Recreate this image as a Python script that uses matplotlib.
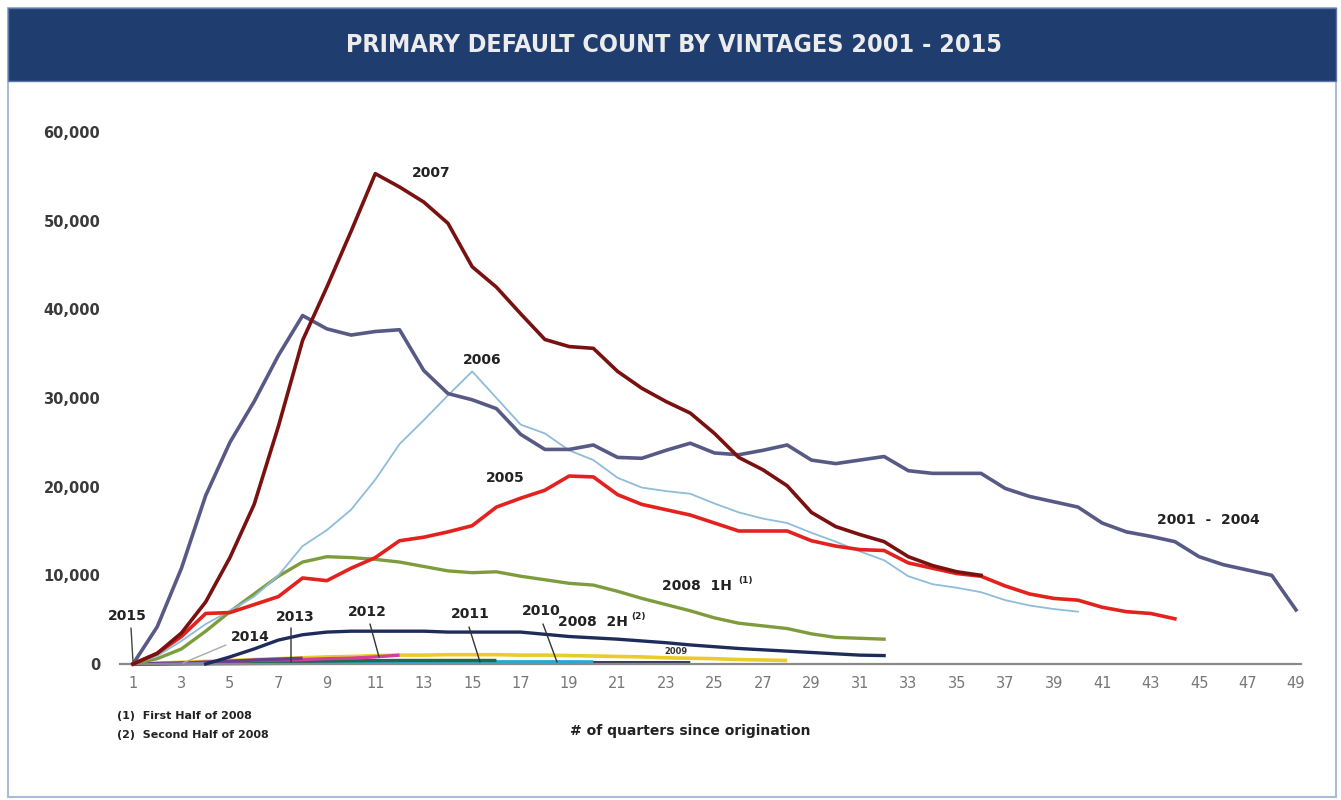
import numpy as np
import matplotlib
matplotlib.use("Agg")
import matplotlib.pyplot as plt
from matplotlib.patches import Rectangle
from matplotlib.ticker import FuncFormatter

# ---------------- data ----------------
title = "PRIMARY DEFAULT COUNT BY VINTAGES 2001 - 2015"
x_label = "# of quarters since origination"
footnotes = ["(1)  First Half of 2008", "(2)  Second Half of 2008"]
y_ticks = [0, 10000, 20000, 30000, 40000, 50000, 60000]
x_ticks = list(range(1, 50, 2))

v2001_2004 = [0, 4200, 10800, 19000, 25000, 29600, 34800, 39300, 37800, 37100,
              37500, 37700, 33100, 30500, 29800, 28800, 25900, 24200, 24200, 24700,
              23300, 23200, 24100, 24900, 23800, 23600, 24100, 24700, 23000, 22600,
              23000, 23400, 21800, 21500, 21500, 21500, 19800, 18900, 18300, 17700,
              15900, 14900, 14400, 13800, 12100, 11200, 10600, 10000, 6100]
v2007 = [0, 1200, 3500, 7000, 12000, 18000, 26800, 36500, 42500, 48800,
         55300, 53800, 52100, 49700, 44800, 42500, 39500, 36600, 35800, 35600,
         33000, 31100, 29600, 28300, 26000, 23300, 21900, 20100, 17100, 15500,
         14600, 13800, 12100, 11100, 10400, 10000]
v2006 = [0, 900, 2600, 4500, 6000, 7600, 10000, 13300, 15100, 17400,
         20800, 24800, 27500, 30300, 33000, 30000, 27000, 26000, 24100, 23000,
         21000, 19900, 19500, 19200, 18100, 17100, 16400, 15900, 14800, 13800,
         12700, 11700, 9900, 9000, 8600, 8100, 7200, 6600, 6200, 5900]
v2005 = [0, 1200, 3100, 5700, 5800, 6700, 7600, 9700, 9400, 10800,
         12000, 13900, 14300, 14900, 15600, 17700, 18700, 19600, 21200, 21100,
         19100, 18000, 17400, 16800, 15900, 15000, 15000, 15000, 13900, 13300,
         12900, 12800, 11400, 10800, 10200, 9900, 8800, 7900, 7400, 7200,
         6400, 5900, 5700, 5100]
v2008_1h = [0, 600, 1700, 3700, 5900, 7900, 9900, 11500, 12100, 12000,
            11800, 11500, 11000, 10500, 10300, 10400, 9900, 9500, 9100, 8900,
            8200, 7400, 6700, 6000, 5200, 4600, 4300, 4000, 3400, 3000,
            2900, 2800]
v2008_2h_start = 4
v2008_2h = [0, 800, 1700, 2700, 3300, 3600, 3700, 3700, 3700, 3700,
            3600, 3600, 3600, 3600, 3350, 3100, 2950, 2800, 2600, 2400,
            2150, 1950, 1750, 1600, 1450, 1300, 1150, 1000, 950]
v2009 = [0, 100, 200, 300, 400, 500, 600, 700, 800, 850,
         950, 1000, 1000, 1050, 1050, 1050, 1000, 1000, 950, 900,
         850, 800, 700, 650, 600, 500, 450, 400]
v_other = [0, 10, 20, 30, 40, 50, 60, 70, 80, 90,
           100, 110, 120, 130, 140, 150, 150, 150, 150, 150,
           150, 150, 150, 150]
v2010 = [0, 20, 40, 60, 80, 100, 120, 140, 160, 180,
         200, 210, 220, 230, 240, 250, 250, 250, 250, 240]
v2011 = [0, 30, 60, 100, 150, 200, 250, 300, 330, 360,
         380, 400, 400, 400, 400, 400]
v2012 = [0, 50, 100, 200, 300, 400, 450, 500, 600, 650, 800, 1000]
v2013 = [0, 50, 100, 200, 300, 450, 550, 650]
v2014 = [0, 20, 50, 80]
v2015 = [0, 30]

# ---------------- figure ----------------
W, H = 1341, 800
fig = plt.figure(figsize=(W / 100, H / 100), dpi=100)
fig.patch.set_facecolor("white")

# frame and title bar
fig.patches.append(Rectangle((8 / W, 3 / H), 1328 / W, 789 / H, transform=fig.transFigure,
                             fill=False, edgecolor="#a9bcd8", lw=1.5))
fig.patches.append(Rectangle((8 / W, 1 - 81 / H), 1328 / W, 73 / H, transform=fig.transFigure,
                             facecolor="#1f3d6f", edgecolor="#5b78a8", lw=1.0))
fig.text(674 / W, 1 - 45 / H, title, ha="center", va="center", color="#ececec",
         fontsize=18, fontweight="bold", fontstretch="condensed", family="DejaVu Sans")

# axes placement: q1 at x=133px, q49 at 1296px; 0 at y=664px, 60,000 at y=132px
xmin, xmax = 0.45, 49.2
ymin, ymax = -300, 61000
pxq = (1296 - 133) / 48.0
pyv = (664 - 132) / 60000.0
left = 133 + (xmin - 1) * pxq
right = 133 + (xmax - 1) * pxq
bottom = 664 - ymin * pyv
top = 664 - ymax * pyv
ax = fig.add_axes([left / W, 1 - bottom / H, (right - left) / W, (bottom - top) / H])
ax.set_xlim(xmin, xmax)
ax.set_ylim(ymin, ymax)
ax.set_facecolor("none")

for s in ["left", "right", "top"]:
    ax.spines[s].set_visible(False)
ax.spines["bottom"].set_position(("data", 0))
ax.spines["bottom"].set_color("#8a8a8a")
ax.spines["bottom"].set_linewidth(1.6)

ax.set_yticks(y_ticks)
ax.yaxis.set_major_formatter(FuncFormatter(lambda v, p: f"{int(v):,}"))
ax.set_xticks(x_ticks)
ax.tick_params(axis="y", length=0, pad=14, labelsize=10.5, labelcolor="#3a3a3a")
ax.tick_params(axis="x", length=0, pad=9, labelsize=10.5, labelcolor="#777777")
for lab in ax.get_yticklabels():
    lab.set_fontweight("bold")


def q(start, vals):
    return np.arange(start, start + len(vals))


# small vintages (bottom)
ax.plot(q(1, v_other), v_other, color="#3b3b58", lw=2.4, zorder=2, solid_capstyle="butt")
ax.plot(q(1, v2010), v2010, color="#25a9d6", lw=2.4, zorder=2.1, solid_capstyle="butt")
ax.plot(q(1, v2011), v2011, color="#1f6a4c", lw=2.4, zorder=2.2, solid_capstyle="butt")
ax.plot(q(1, v2009), v2009, color="#e9cc2c", lw=2.6, zorder=2.0, solid_capstyle="butt")
ax.plot(q(1, v2012), v2012, color="#d23f9f", lw=2.4, zorder=2.3, solid_capstyle="butt")
ax.plot(q(1, v2013), v2013, color="#6c3f8c", lw=2.4, zorder=2.4, solid_capstyle="butt")
ax.plot(q(1, v2014), v2014, color="#b0b0b0", lw=1.2, zorder=2.5)
ax.plot(q(1, v2015), v2015, color="#555555", lw=1.2, zorder=2.5)

# main vintages
ax.plot(q(v2008_2h_start, v2008_2h), v2008_2h, color="#1d2c5b", lw=2.4, zorder=3)
ax.plot(q(1, v2008_1h), v2008_1h, color="#7e9c3d", lw=2.4, zorder=3.1)
ax.plot(q(1, v2006), v2006, color="#8fbcda", lw=1.3, zorder=3.2)
ax.plot(q(1, v2001_2004), v2001_2004, color="#585a86", lw=2.6, zorder=3.3)
ax.plot(q(1, v2005), v2005, color="#e3221e", lw=2.6, zorder=3.4)
ax.plot(q(1, v2007), v2007, color="#7a1111", lw=2.6, zorder=3.5)


# ---------------- labels ----------------
def px(xp, yp):
    """reference pixel position -> data coordinates (for text placement)"""
    return (xp - 133) / pxq + 1, (664 - yp) / pyv


lab_kw = dict(ha="center", va="center", fontsize=10, fontweight="bold", color="#222222", zorder=6)
sup_kw = dict(ha="center", va="center", fontsize=6.5, fontweight="bold", color="#222222", zorder=6)

ax.text(*px(431, 173), "2007", **lab_kw)
ax.text(*px(482, 360), "2006", **lab_kw)
ax.text(*px(505, 478), "2005", **lab_kw)
ax.text(*px(1208, 520), "2001  -  2004", **lab_kw)
ax.text(*px(697, 586), "2008  1H", **lab_kw)
ax.text(*px(745, 580), "(1)", **sup_kw)
ax.text(*px(593, 622), "2008  2H", **lab_kw)
ax.text(*px(638, 617), "(2)", **sup_kw)
ax.text(*px(676, 652), "2009", ha="center", va="center", fontsize=6, fontweight="bold",
        color="#333333", zorder=6)

leader = [("2015", (127, 616), (131, 628), (133, 662), "#444444"),
          ("2014", (250, 637), (226, 645), (183, 663), "#aaaaaa"),
          ("2013", (295, 617), (291, 628), (291, 662), "#333333"),
          ("2012", (367, 612), (370, 624), (379, 657), "#333333"),
          ("2011", (470, 614), (469, 627), (480, 662), "#333333"),
          ("2010", (541, 611), (543, 624), (557, 662), "#333333")]
for txt, tpos, lstart, lend, lc in leader:
    ax.text(*px(*tpos), txt, **lab_kw)
    ax.annotate("", xy=px(*lend), xytext=px(*lstart),
                arrowprops=dict(arrowstyle="-", color=lc, lw=1.0, shrinkA=0, shrinkB=0),
                zorder=6)

fig.text(690 / W, 1 - 731 / H, x_label, ha="center", va="center",
         fontsize=10, fontweight="bold", color="#222222")
fig.text(117 / W, 1 - 716 / H, footnotes[0], ha="left", va="center",
         fontsize=8, fontweight="bold", color="#222222")
fig.text(117 / W, 1 - 735 / H, footnotes[1], ha="left", va="center",
         fontsize=8, fontweight="bold", color="#222222")

fig.savefig("out.png", dpi=100)
